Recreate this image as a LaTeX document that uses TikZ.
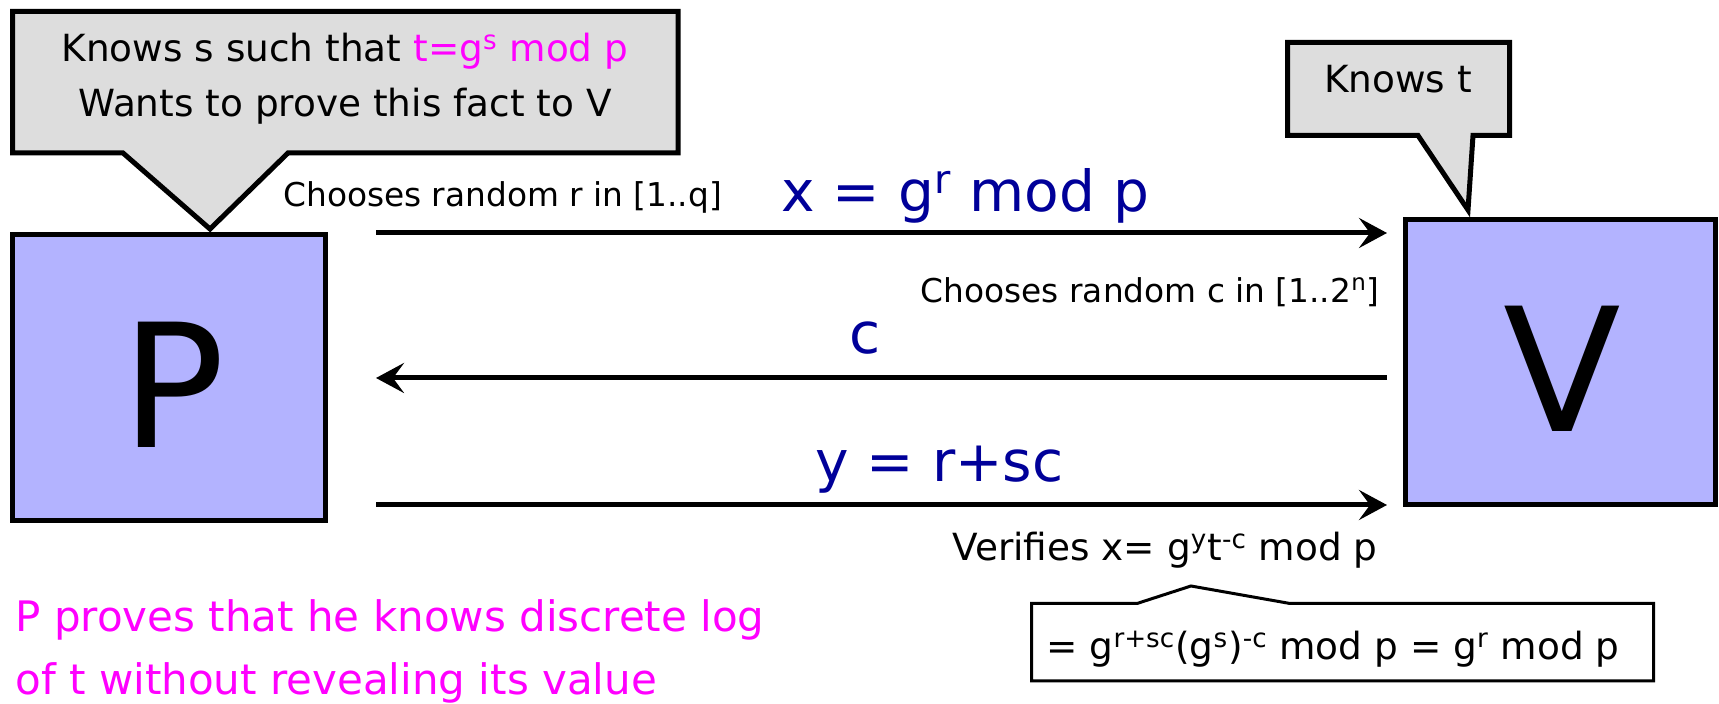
\documentclass[tikz,border=0pt]{standalone}
\usepackage{fontspec}
\setmainfont{DejaVu Sans}
\usetikzlibrary{arrows.meta,calc}
\definecolor{callgray}{HTML}{DDDDDD}
\definecolor{partyfill}{HTML}{B3B3FF}
\definecolor{msgblue}{HTML}{000099}
\definecolor{pinktext}{HTML}{FF00FF}
\newcommand\fsz[1]{\fontsize{#1}{#1}\selectfont}
\begin{document}
\begin{tikzpicture}[x=0.5pt,y=-0.5pt,
  party/.style={draw=black,line width=2.5pt,fill=partyfill,inner sep=0pt},
  bigletter/.style={font=\fsz{86}},
  calloutshape/.style={draw=black,line width=2.5pt,fill=callgray,line join=miter},
  noteshape/.style={draw=black,line width=1.5pt,fill=white,line join=miter},
  plain/.style={inner sep=0pt,font=\fsz{18.7}},
  smalltext/.style={inner sep=0pt,font=\fsz{16.4}},
  msglabel/.style={inner sep=0pt,font=\fsz{28.3},text=msgblue},
  remark/.style={inner sep=0pt,font=\fsz{21},text=pinktext},
  msg/.style={line width=2.5pt,-{Stealth[length=14pt,width=15pt,inset=5.5pt]}},
]
\path[use as bounding box] (0,0) rectangle (1719,704);

% parties
\node[party,minimum width=156.5pt,minimum height=143pt] (P) at (169,377.5) {};
\node[party,minimum width=155pt,minimum height=142.5pt] (V) at (1560.5,362) {};
\node[bigletter] (Pl) at (173,385) {P};
\node[bigletter] (Vl) at (1562,368.5) {V};

% callouts
\draw[calloutshape] (12.5,11.5) -- (678,11.5) -- (678,153) -- (288,153) -- (210,229) -- (123,153) -- (12.5,153) -- cycle;
\draw[calloutshape] (1287.5,42.5) -- (1509.5,42.5) -- (1509.5,135.5) -- (1473,135.5) -- (1468,210) -- (1418,135.5) -- (1287.5,135.5) -- cycle;
\draw[noteshape] (1031.5,603.5) -- (1137,603.5) -- (1191,586) -- (1290,603.5) -- (1653.5,603.5) -- (1653.5,681) -- (1031.5,681) -- cycle;

\node[plain,anchor=base] (pk1) at (345,62) {Knows s such that \textcolor{pinktext}{t=g\textsuperscript{s} mod p}};
\node[plain,anchor=base] (pk2) at (345,117) {Wants to prove this fact to V};
\node[plain,anchor=base] (vk) at (1398,93) {Knows t};

% messages
\coordinate (y1) at (0,233);
\coordinate (y2) at (0,378);
\coordinate (y3) at (0,505);
\draw[msg,shorten <=24pt,shorten >=8pt] (P.east |- y1) -- (V.west |- y1);
\draw[msg,shorten <=8pt,shorten >=24pt] (V.west |- y2) -- (P.east |- y2);
\draw[msg,shorten <=24pt,shorten >=8pt] (P.east |- y3) -- (V.west |- y3);

\node[smalltext,anchor=base west] (cr) at (283,207) {Chooses random r in [1..q]};
\node[msglabel,anchor=base west] (mx) at (781,212) {x = g\textsuperscript{r} mod p};
\node[smalltext,anchor=base east] (cc) at (1380,303) {Chooses random c in [1..2\textsuperscript{n}]};
\node[msglabel,anchor=base] (mc) at (865,354) {c};
\node[msglabel,anchor=base west] (my) at (815,482) {y = r+sc};
\node[plain,anchor=base west] (vf) at (952,561) {Verifies x= g\textsuperscript{y}t\textsuperscript{-c} mod p};
\node[plain,anchor=base] (eq) at (1333,660) {= g\textsuperscript{r+sc}(g\textsuperscript{s})\textsuperscript{-c} mod p = g\textsuperscript{r} mod p};

\node[remark,anchor=base west] (pr1) at (15,632) {P proves that he knows discrete log};
\node[remark,anchor=base west] (pr2) at (15,695) {of t without revealing its value};
\end{tikzpicture}
\end{document}
